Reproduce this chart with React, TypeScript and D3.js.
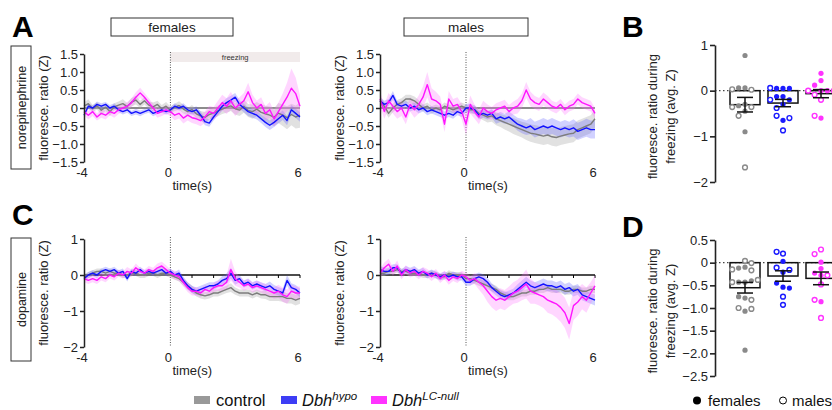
import React, { useEffect, useRef } from 'react'
import * as d3 from 'd3'

// sample grid of the photometry traces, seconds (-4 .. 6, every 0.2 s)
const TIME = d3.range(51).map(i => -4 + i * 0.2)

// ---- panel A, norepinephrine, females ----
const AF_CTRL = [
  0.05, 0.12, -0.02, 0.06, -0.06, 0.02, -0.1, 0.03, 0.08, 0.12,
  0.04, 0.16, 0.22, 0.1, 0.2, 0.08, 0.03, 0.1, -0.02, 0.05,
  -0.06, 0.02, 0.07, -0.03, -0.1, -0.04, -0.16, -0.22, -0.26, -0.18,
  -0.14, -0.08, -0.03, 0.02, 0.06, -0.02, -0.06, 0.05, -0.07, -0.1,
  -0.03, -0.12, -0.16, -0.2, -0.26, -0.14, -0.2, -0.27, -0.18, -0.25,
  -0.2]
const AF_HYPO = [
  -0.2, 0.05, 0.0, 0.1, 0.05, 0.1, 0.0, 0.05, -0.05, -0.1,
  -0.05, -0.15, -0.1, -0.15, -0.1, -0.05, -0.15, -0.1, -0.05, -0.1,
  -0.05, 0.05, 0.0, 0.05, -0.05, -0.1, -0.05, -0.2, -0.38, -0.42,
  -0.25, -0.1, 0.05, 0.15, 0.22, 0.3, 0.1, 0.0, -0.1, -0.15,
  -0.2, -0.3, -0.4, -0.48, -0.4, -0.3, -0.2, -0.35, -0.05, -0.15,
  -0.25]
const AF_LC = [
  -0.1, -0.2, -0.1, -0.25, -0.15, -0.2, -0.1, -0.15, -0.05, 0.0,
  0.05, 0.15, 0.3, 0.42, 0.3, 0.15, 0.0, -0.15, -0.1, -0.05,
  -0.1, -0.2, -0.15, -0.28, -0.2, -0.27, -0.3, -0.35, -0.25, -0.1,
  -0.15, 0.0, 0.15, 0.05, 0.2, 0.0, 0.1, 0.2, 0.45, 0.15,
  0.0, 0.1, -0.15, -0.05, -0.3, -0.1, 0.1, 0.3, 0.55, 0.4,
  0.05]
const AF_CTRL_SEM = [
  0.1, 0.12, 0.1, 0.1, 0.12, 0.1, 0.12, 0.1, 0.1, 0.12,
  0.1, 0.12, 0.12, 0.1, 0.1, 0.1, 0.12, 0.1, 0.1, 0.12,
  0.1, 0.1, 0.12, 0.12, 0.1, 0.12, 0.12, 0.14, 0.15, 0.14,
  0.14, 0.15, 0.14, 0.15, 0.14, 0.16, 0.16, 0.18, 0.18, 0.2,
  0.2, 0.22, 0.22, 0.24, 0.25, 0.28, 0.3, 0.32, 0.3, 0.32,
  0.35]
const AF_HYPO_SEM = [
  0.08, 0.08, 0.07, 0.08, 0.08, 0.07, 0.08, 0.08, 0.07, 0.08,
  0.08, 0.07, 0.08, 0.08, 0.07, 0.08, 0.08, 0.07, 0.08, 0.08,
  0.08, 0.08, 0.07, 0.08, 0.08, 0.09, 0.1, 0.1, 0.1, 0.1,
  0.1, 0.1, 0.12, 0.12, 0.12, 0.12, 0.12, 0.12, 0.12, 0.12,
  0.12, 0.12, 0.13, 0.13, 0.13, 0.13, 0.13, 0.13, 0.13, 0.13,
  0.13]
const AF_LC_SEM = [
  0.1, 0.12, 0.12, 0.1, 0.12, 0.12, 0.1, 0.12, 0.12, 0.1,
  0.12, 0.12, 0.14, 0.14, 0.12, 0.12, 0.12, 0.12, 0.12, 0.12,
  0.12, 0.14, 0.14, 0.15, 0.15, 0.15, 0.15, 0.16, 0.16, 0.16,
  0.18, 0.2, 0.22, 0.22, 0.25, 0.22, 0.2, 0.22, 0.25, 0.22,
  0.2, 0.2, 0.2, 0.22, 0.22, 0.25, 0.3, 0.4, 0.55, 0.45,
  0.3]

// ---- panel A, norepinephrine, males ----
const AM_CTRL = [
  0.2, 0.05, -0.15, 0.0, 0.1, 0.15, 0.25, 0.25, 0.2, 0.1,
  0.0, 0.05, -0.05, 0.0, -0.05, 0.05, 0.0, -0.05, 0.0, 0.05,
  0.0, -0.05, -0.05, -0.15, -0.2, -0.25, -0.22, -0.3, -0.35, -0.4,
  -0.45, -0.5, -0.55, -0.6, -0.65, -0.7, -0.72, -0.75, -0.78, -0.75,
  -0.8, -0.82, -0.78, -0.75, -0.72, -0.7, -0.6, -0.55, -0.5, -0.45,
  -0.3]
const AM_HYPO = [
  0.2, 0.1, 0.15, 0.35, 0.1, 0.05, 0.1, 0.0, 0.05, -0.05,
  0.0, -0.1, -0.05, -0.1, -0.15, -0.2, -0.15, -0.2, -0.1, -0.15,
  0.0, 0.0, -0.05, -0.2, -0.15, -0.2, -0.15, -0.3, -0.25, -0.3,
  -0.25, -0.35, -0.45, -0.5, -0.55, -0.5, -0.6, -0.55, -0.5, -0.55,
  -0.5, -0.55, -0.6, -0.55, -0.6, -0.55, -0.65, -0.6, -0.55, -0.6,
  -0.6]
const AM_LC = [
  0.25, -0.1, 0.2, 0.05, -0.1, 0.0, -0.25, 0.1, -0.05, 0.1,
  0.3, 0.65, 0.25, 0.2, 0.1, -0.45, 0.25, 0.05, 0.1, -0.1,
  -0.45, 0.1, -0.1, -0.25, 0.0, -0.1, -0.15, -0.05, 0.0, 0.05,
  -0.1, 0.0, 0.05, 0.2, 0.5, 0.25, 0.15, 0.1, 0.25, 0.15,
  0.05, 0.0, 0.1, -0.05, 0.05, 0.1, 0.25, 0.15, 0.1, 0.05,
  -0.15]
const AM_CTRL_SEM = [
  0.12, 0.12, 0.12, 0.12, 0.12, 0.12, 0.12, 0.12, 0.12, 0.12,
  0.1, 0.1, 0.1, 0.1, 0.1, 0.1, 0.1, 0.1, 0.1, 0.1,
  0.1, 0.1, 0.12, 0.12, 0.14, 0.15, 0.16, 0.18, 0.18, 0.2,
  0.2, 0.22, 0.22, 0.22, 0.24, 0.24, 0.25, 0.25, 0.25, 0.25,
  0.25, 0.25, 0.25, 0.25, 0.25, 0.25, 0.25, 0.25, 0.25, 0.25,
  0.25]
const AM_HYPO_SEM = [
  0.1, 0.1, 0.1, 0.12, 0.1, 0.1, 0.1, 0.1, 0.1, 0.1,
  0.1, 0.1, 0.1, 0.1, 0.1, 0.1, 0.1, 0.1, 0.1, 0.1,
  0.12, 0.12, 0.12, 0.12, 0.12, 0.12, 0.12, 0.14, 0.14, 0.14,
  0.15, 0.16, 0.18, 0.2, 0.2, 0.22, 0.22, 0.22, 0.22, 0.22,
  0.22, 0.22, 0.22, 0.22, 0.22, 0.24, 0.24, 0.24, 0.25, 0.25,
  0.25]
const AM_LC_SEM = [
  0.2, 0.2, 0.22, 0.2, 0.2, 0.22, 0.2, 0.2, 0.22, 0.25,
  0.3, 0.35, 0.3, 0.25, 0.22, 0.22, 0.22, 0.2, 0.2, 0.22,
  0.3, 0.25, 0.2, 0.2, 0.2, 0.2, 0.18, 0.18, 0.18, 0.18,
  0.18, 0.18, 0.2, 0.2, 0.22, 0.2, 0.18, 0.18, 0.18, 0.18,
  0.15, 0.15, 0.15, 0.15, 0.15, 0.15, 0.15, 0.15, 0.15, 0.15,
  0.15]

// ---- panel C, dopamine, females ----
const CF_CTRL = [
  -0.05, 0.0, 0.05, 0.1, 0.1, 0.05, 0.1, 0.05, 0.05, 0.0,
  0.0, 0.05, 0.05, 0.0, 0.0, 0.05, 0.05, 0.0, 0.05, 0.05,
  0.0, -0.05, -0.1, -0.2, -0.3, -0.4, -0.5, -0.55, -0.58, -0.55,
  -0.5, -0.5, -0.45, -0.4, -0.35, -0.45, -0.5, -0.5, -0.5, -0.55,
  -0.5, -0.55, -0.55, -0.6, -0.6, -0.6, -0.6, -0.65, -0.65, -0.7,
  -0.65]
const CF_HYPO = [
  -0.1, 0.0, 0.05, 0.0, 0.1, 0.15, 0.1, 0.15, 0.05, 0.1,
  -0.1, 0.1, 0.05, 0.15, 0.05, 0.1, 0.05, 0.1, 0.15, 0.05,
  0.1, 0.0, 0.05, -0.15, -0.3, -0.4, -0.45, -0.4, -0.35, -0.3,
  -0.3, -0.25, -0.15, -0.1, 0.05, -0.15, -0.1, -0.25, -0.2, -0.3,
  -0.25, -0.3, -0.35, -0.3, -0.4, -0.45, -0.5, -0.15, -0.35, -0.4,
  -0.5]
const CF_LC = [
  -0.1, -0.15, -0.1, -0.15, -0.05, -0.1, 0.0, -0.05, 0.05, 0.0,
  0.1, 0.05, 0.2, 0.1, 0.05, 0.15, 0.1, 0.2, 0.25, 0.15,
  0.05, 0.0, -0.05, -0.2, -0.35, -0.45, -0.45, -0.5, -0.4, -0.45,
  -0.35, -0.3, -0.3, -0.2, 0.15, -0.1, -0.2, -0.3, -0.25, -0.35,
  -0.3, -0.35, -0.4, -0.45, -0.5, -0.45, -0.55, -0.6, -0.45, -0.5,
  -0.5]
const CF_CTRL_SEM = [
  0.08, 0.08, 0.08, 0.08, 0.08, 0.08, 0.08, 0.08, 0.08, 0.08,
  0.08, 0.08, 0.08, 0.08, 0.08, 0.08, 0.08, 0.08, 0.08, 0.08,
  0.08, 0.08, 0.08, 0.1, 0.1, 0.1, 0.1, 0.1, 0.1, 0.1,
  0.1, 0.1, 0.1, 0.1, 0.12, 0.1, 0.1, 0.1, 0.1, 0.1,
  0.1, 0.1, 0.12, 0.12, 0.12, 0.12, 0.14, 0.14, 0.14, 0.15,
  0.15]
const CF_HYPO_SEM = [
  0.08, 0.08, 0.08, 0.08, 0.08, 0.08, 0.08, 0.08, 0.08, 0.08,
  0.08, 0.08, 0.08, 0.08, 0.08, 0.08, 0.08, 0.08, 0.08, 0.08,
  0.08, 0.08, 0.1, 0.1, 0.1, 0.1, 0.1, 0.1, 0.1, 0.1,
  0.1, 0.1, 0.12, 0.14, 0.15, 0.12, 0.1, 0.1, 0.1, 0.1,
  0.1, 0.1, 0.1, 0.12, 0.12, 0.12, 0.12, 0.15, 0.12, 0.12,
  0.12]
const CF_LC_SEM = [
  0.1, 0.1, 0.1, 0.1, 0.1, 0.1, 0.1, 0.1, 0.1, 0.1,
  0.12, 0.1, 0.12, 0.1, 0.1, 0.1, 0.1, 0.12, 0.12, 0.12,
  0.1, 0.12, 0.12, 0.12, 0.12, 0.12, 0.12, 0.12, 0.12, 0.12,
  0.12, 0.14, 0.16, 0.2, 0.3, 0.2, 0.15, 0.14, 0.14, 0.14,
  0.14, 0.14, 0.15, 0.15, 0.16, 0.18, 0.2, 0.2, 0.18, 0.18,
  0.18]

// ---- panel C, dopamine, males ----
const CM_CTRL = [
  0.05, 0.05, 0.1, 0.1, 0.15, 0.1, 0.1, 0.05, 0.05, 0.05,
  0.0, 0.0, 0.05, 0.0, -0.05, -0.05, 0.05, 0.0, 0.0, 0.0,
  -0.1, -0.1, -0.15, -0.2, -0.25, -0.3, -0.35, -0.4, -0.5, -0.55,
  -0.6, -0.6, -0.55, -0.5, -0.5, -0.45, -0.45, -0.4, -0.4, -0.35,
  -0.4, -0.4, -0.4, -0.45, -0.45, -0.4, -0.4, -0.45, -0.45, -0.4,
  -0.4]
const CM_HYPO = [
  0.15, 0.1, 0.1, 0.2, 0.2, 0.05, 0.15, 0.1, 0.15, 0.05,
  0.1, 0.0, 0.05, 0.0, -0.05, 0.0, -0.05, 0.0, -0.05, -0.05,
  -0.2, -0.2, -0.1, -0.05, -0.1, -0.2, -0.35, -0.45, -0.55, -0.6,
  -0.55, -0.5, -0.4, -0.3, -0.2, -0.3, -0.35, -0.3, -0.25, -0.3,
  -0.3, -0.35, -0.3, -0.4, -0.35, -0.45, -0.4, -0.55, -0.6, -0.65,
  -0.7]
const CM_LC = [
  0.05, 0.2, 0.3, 0.1, 0.25, 0.0, 0.15, 0.05, 0.1, 0.0,
  0.1, 0.05, -0.05, 0.05, -0.1, 0.0, -0.15, -0.05, -0.1, 0.0,
  -0.05, -0.15, -0.1, -0.2, -0.3, -0.45, -0.6, -0.7, -0.65, -0.7,
  -0.6, -0.5, -0.45, -0.35, -0.25, -0.45, -0.5, -0.55, -0.6, -0.7,
  -0.75, -0.8, -0.9, -1.05, -1.35, -0.85, -0.75, -0.6, -0.7, -0.5,
  -0.3]
const CM_CTRL_SEM = [
  0.08, 0.08, 0.08, 0.08, 0.08, 0.08, 0.08, 0.08, 0.08, 0.08,
  0.08, 0.08, 0.08, 0.08, 0.08, 0.08, 0.08, 0.08, 0.08, 0.08,
  0.08, 0.08, 0.1, 0.1, 0.1, 0.1, 0.1, 0.1, 0.1, 0.1,
  0.1, 0.1, 0.1, 0.1, 0.1, 0.1, 0.1, 0.1, 0.1, 0.1,
  0.1, 0.1, 0.1, 0.1, 0.1, 0.1, 0.1, 0.1, 0.1, 0.1,
  0.1]
const CM_HYPO_SEM = [
  0.1, 0.1, 0.1, 0.1, 0.1, 0.1, 0.1, 0.1, 0.1, 0.1,
  0.1, 0.1, 0.1, 0.1, 0.1, 0.1, 0.1, 0.1, 0.1, 0.1,
  0.1, 0.1, 0.12, 0.12, 0.12, 0.12, 0.12, 0.12, 0.12, 0.12,
  0.12, 0.12, 0.14, 0.15, 0.15, 0.15, 0.15, 0.15, 0.15, 0.15,
  0.15, 0.15, 0.15, 0.15, 0.15, 0.15, 0.15, 0.15, 0.15, 0.15,
  0.15]
const CM_LC_SEM = [
  0.12, 0.15, 0.15, 0.12, 0.15, 0.12, 0.12, 0.12, 0.12, 0.12,
  0.12, 0.12, 0.12, 0.12, 0.12, 0.12, 0.12, 0.12, 0.12, 0.12,
  0.12, 0.12, 0.15, 0.2, 0.25, 0.3, 0.3, 0.3, 0.28, 0.28,
  0.28, 0.3, 0.32, 0.35, 0.4, 0.35, 0.3, 0.3, 0.32, 0.35,
  0.35, 0.38, 0.4, 0.42, 0.45, 0.4, 0.38, 0.35, 0.35, 0.3,
  0.3]

// ---- bar/dot panels: averages during freezing ----
const GROUPS = ['control', 'hypo', 'lcnull']
const B_FEMALES = [
  [0.77, 0.06, 0.06, -0.3, -0.33, -0.45, -0.9],
  [0.05, 0.05, 0.05, -0.13, -0.13, -0.2, -0.3, -0.65],
  [0.38, 0.22, 0.12, 0.0, 0.0, -0.6],
]
const B_MALES = [
  [0.02, 0.03, -0.36, -0.36, -0.55, -1.68],
  [0.06, -0.2, -0.38, -0.55, -0.6, -0.87],
  [0.0, 0.0, -0.09, -0.2, -0.55],
]
const D_FEMALES = [
  [-0.1, -0.12, -0.43, -0.43, -0.4, -0.78, -0.75, -1.07, -1.93],
  [0.03, -0.21, -0.54, -0.45, -0.56],
  [0.01, -0.13, -0.28, -0.23, -0.86],
]
const D_MALES = [
  [0.04, -0.01, -0.17, -0.15, -0.43, -0.38, -0.82, -1.0, -1.02],
  [0.2, 0.24, -0.11, -0.16, -0.75, -0.93],
  [0.29, 0.19, -0.28, -0.48, -0.82, -1.22],
]

const NE_TICKS = [-1.5, -1, -0.5, 0, 0.5, 1, 1.5]
const DA_TICKS = [-2, -1, 0, 1]
const B_TICKS = [-2, -1, 0, 1]
const D_TICKS = [-2.5, -2, -1.5, -1, -0.5, 0, 0.5]
const X_TICKS = [-4, 0, 6]

const COL = {
  control: { line: '#7d7d7d', band: '#b4b4b4', dot: '#8a8a8a', key: '#999999' },
  hypo: { line: '#1212ff', band: '#5a5aff', dot: '#1a1aff', key: '#3d3df5' },
  lcnull: { line: '#ff14ff', band: '#ff6bff', dot: '#ff33ff', key: '#ff33ff' },
}

const FONT = "Arial, 'Liberation Sans', Helvetica, sans-serif"
const fmt1 = (d) => (d === 0 ? '0' : d3.format('.1f')(d))

function drawTrace(svg, p) {
  const x = d3.scaleLinear().domain([-4, 6]).range([p.x0, p.x1])
  const y = d3.scaleLinear().domain(p.domain).range([p.yBot, p.yTop])
  const g = svg.append('g')

  if (p.freezing) {
    g.append('rect')
      .attr('x', x(0)).attr('y', p.yTop - 2)
      .attr('width', x(6) - x(0)).attr('height', 10)
      .attr('fill', '#f1ebeb')
    g.append('text')
      .attr('x', (x(0) + x(6)) / 2).attr('y', p.yTop + 5.5)
      .attr('text-anchor', 'middle').attr('font-size', 7.5).attr('fill', '#333')
      .text('freezing')
  }

  // zero line
  g.append('line')
    .attr('x1', x(-4)).attr('x2', x(6)).attr('y1', y(0)).attr('y2', y(0))
    .attr('stroke', p.zeroColor).attr('stroke-width', 1.3)
  if (p.zeroTicks) {
    g.selectAll('.zt').data(d3.range(1, 7)).enter().append('line')
      .attr('x1', d => x(d)).attr('x2', d => x(d))
      .attr('y1', y(0)).attr('y2', y(0) + 3)
      .attr('stroke', '#000').attr('stroke-width', 1)
  }

  // onset of freezing
  g.append('line')
    .attr('x1', x(0)).attr('x2', x(0)).attr('y1', p.yTop - 2).attr('y2', p.yBot)
    .attr('stroke', '#555').attr('stroke-width', 1).attr('stroke-dasharray', '1,1.5')

  const area = (s) => d3.area()
    .x((d, i) => x(TIME[i]))
    .y0((d, i) => y(s.mean[i] - s.sem[i]))
    .y1((d, i) => y(s.mean[i] + s.sem[i]))
  const line = d3.line().x((d, i) => x(TIME[i])).y(d => y(d))

  p.series.forEach(s => {
    g.append('path').datum(s.mean).attr('d', area(s))
      .attr('fill', COL[s.k].band).attr('fill-opacity', s.k === 'control' ? 0.4 : 0.28)
  })
  p.series.forEach(s => {
    g.append('path').datum(s.mean).attr('d', line)
      .attr('fill', 'none').attr('stroke', COL[s.k].line).attr('stroke-width', 1.4)
      .attr('stroke-linejoin', 'round')
  })

  // y axis
  const ax = g.append('g').attr('transform', `translate(${p.x0},0)`)
    .call(d3.axisLeft(y).tickValues(p.ticks).tickFormat(p.fmt).tickSize(4).tickSizeOuter(0).tickPadding(2))
  ax.select('.domain').attr('stroke', '#222').attr('stroke-width', 1.5)
  ax.selectAll('.tick line').attr('stroke', '#222').attr('stroke-width', 1.5)
  ax.selectAll('.tick text').attr('font-size', 13).attr('font-family', FONT).attr('fill', '#222')

  // x labels
  g.selectAll('.xl').data(X_TICKS).enter().append('text')
    .attr('x', d => x(d) - 2).attr('y', p.yBot + 15)
    .attr('text-anchor', 'middle').attr('font-size', 13).attr('fill', '#222')
    .text(d => d)
  g.append('text')
    .attr('x', x(0) + 2).attr('y', p.yBot + 28)
    .attr('font-size', 13).attr('fill', '#222').text('time(s)')

  g.append('text')
    .attr('transform', `translate(${p.x0 - 36},${(p.yTop + p.yBot) / 2}) rotate(-90)`)
    .attr('text-anchor', 'middle').attr('font-size', 13).attr('fill', '#222')
    .text('fluoresce. ratio (Z)')
}

function swarm(values, filled, cx, y, r) {
  const pts = values.map((v, i) => ({ v, f: filled[i], cy: y(v), cx }))
  const placed = []
  const step = 2 * r + 1.6
  pts.forEach(pt => {
    for (let k = 0; k < 12; k++) {
      const off = k === 0 ? 0 : (k % 2 ? -1 : 1) * Math.ceil(k / 2) * step
      const ok = placed.every(q => Math.hypot(q.cx - (cx + off), q.cy - pt.cy) >= 2 * r + 1)
      if (ok) { pt.cx = cx + off; break }
    }
    placed.push(pt)
  })
  return placed
}

function drawBars(svg, p) {
  const y = d3.scaleLinear().domain(p.domain).range([p.yBot, p.yTop])
  const xc = d3.scalePoint().domain(GROUPS).range([745, 821])
  const g = svg.append('g')
  const bw = 30

  g.append('line')
    .attr('x1', p.x0).attr('x2', 840).attr('y1', y(0)).attr('y2', y(0))
    .attr('stroke', '#444').attr('stroke-width', 1.3).attr('stroke-dasharray', '1.5,2.5')

  GROUPS.forEach((k, gi) => {
    const all = p.females[gi].concat(p.males[gi])
    const m = d3.mean(all)
    const sem = d3.deviation(all) / Math.sqrt(all.length)
    const cx = xc(k)
    g.append('rect')
      .attr('x', cx - bw / 2).attr('width', bw)
      .attr('y', Math.min(y(0), y(m))).attr('height', Math.abs(y(m) - y(0)))
      .attr('fill', 'none').attr('stroke', '#111').attr('stroke-width', 1.5)

    const vals = p.females[gi].concat(p.males[gi])
    const flags = p.females[gi].map(() => true).concat(p.males[gi].map(() => false))
    const pts = swarm(vals, flags, cx, y, 2.4)
    pts.forEach(pt => {
      g.append('circle').attr('cx', pt.cx).attr('cy', pt.cy).attr('r', pt.f ? 2.6 : 2.4)
        .attr('fill', pt.f ? COL[k].dot : '#fff')
        .attr('stroke', COL[k].dot).attr('stroke-width', pt.f ? 0 : 1.4)
    })

    g.append('line').attr('x1', cx).attr('x2', cx).attr('y1', y(m - sem)).attr('y2', y(m + sem))
      .attr('stroke', '#111').attr('stroke-width', 1.5)
    ;[m - sem, m + sem].forEach(v => {
      g.append('line').attr('x1', cx - 8).attr('x2', cx + 8).attr('y1', y(v)).attr('y2', y(v))
        .attr('stroke', '#111').attr('stroke-width', 1.5)
    })
  })

  const ax = g.append('g').attr('transform', `translate(${p.x0},0)`)
    .call(d3.axisLeft(y).tickValues(p.ticks).tickFormat(p.fmt).tickSize(5).tickSizeOuter(0).tickPadding(2))
  ax.select('.domain').attr('stroke', '#222').attr('stroke-width', 1.6)
  ax.selectAll('.tick line').attr('stroke', '#222').attr('stroke-width', 1.6)
  ax.selectAll('.tick text').attr('font-size', 13).attr('font-family', FONT).attr('fill', '#222')

  const cy = (p.yTop + p.yBot) / 2 + 3
  g.append('text')
    .attr('transform', `translate(${p.x0 - 58},${cy}) rotate(-90)`)
    .attr('text-anchor', 'middle').attr('font-size', 13).attr('fill', '#222')
    .text('fluoresce. ratio during')
  g.append('text')
    .attr('transform', `translate(${p.x0 - 40},${cy}) rotate(-90)`)
    .attr('text-anchor', 'middle').attr('font-size', 13).attr('fill', '#222')
    .text('freezing (avg. Z)')
}

export default function App() {
  const ref = useRef(null)

  useEffect(() => {
    const svg = d3.select(ref.current)
    svg.selectAll('*').remove()

    svg.append('rect').attr('width', 832).attr('height', 410).attr('fill', '#fff')

    const series = (c, h, l, cs, hs, ls) => [
      { k: 'control', mean: c, sem: cs },
      { k: 'hypo', mean: h, sem: hs },
      { k: 'lcnull', mean: l, sem: ls },
    ]

    drawTrace(svg, { x0: 84, x1: 300, yTop: 54, yBot: 162, domain: [-1.5, 1.5], ticks: NE_TICKS, fmt: fmt1,
      zeroColor: '#666', freezing: true,
      series: series(AF_CTRL, AF_HYPO, AF_LC, AF_CTRL_SEM, AF_HYPO_SEM, AF_LC_SEM) })
    drawTrace(svg, { x0: 380, x1: 595, yTop: 54, yBot: 162, domain: [-1.5, 1.5], ticks: NE_TICKS, fmt: fmt1,
      zeroColor: '#666',
      series: series(AM_CTRL, AM_HYPO, AM_LC, AM_CTRL_SEM, AM_HYPO_SEM, AM_LC_SEM) })
    drawTrace(svg, { x0: 84, x1: 300, yTop: 239, yBot: 347, domain: [-2, 1], ticks: DA_TICKS, fmt: d3.format('d'),
      zeroColor: '#111', zeroTicks: true,
      series: series(CF_CTRL, CF_HYPO, CF_LC, CF_CTRL_SEM, CF_HYPO_SEM, CF_LC_SEM) })
    drawTrace(svg, { x0: 380, x1: 595, yTop: 239, yBot: 347, domain: [-2, 1], ticks: DA_TICKS, fmt: d3.format('d'),
      zeroColor: '#111', zeroTicks: true,
      series: series(CM_CTRL, CM_HYPO, CM_LC, CM_CTRL_SEM, CM_HYPO_SEM, CM_LC_SEM) })

    drawBars(svg, { x0: 715, yTop: 45, yBot: 182, domain: [-2, 1], ticks: B_TICKS, fmt: d3.format('d'),
      females: B_FEMALES, males: B_MALES })
    drawBars(svg, { x0: 715, yTop: 240, yBot: 376, domain: [-2.5, 0.5], ticks: D_TICKS, fmt: fmt1,
      females: D_FEMALES, males: D_MALES })

    // panel letters
    ;[['A', 12, 37], ['B', 622, 37], ['C', 12, 225], ['D', 622, 237]].forEach(([t, x, yy]) => {
      svg.append('text').attr('x', x).attr('y', yy).attr('font-size', 30).attr('font-weight', 'bold')
        .attr('fill', '#000').text(t)
    })

    // column headers
    ;[['females', 111, 233], ['males', 404, 528]].forEach(([t, a, b]) => {
      svg.append('rect').attr('x', a).attr('y', 18).attr('width', b - a).attr('height', 18)
        .attr('fill', '#fff').attr('stroke', '#333').attr('stroke-width', 1)
      svg.append('text').attr('x', (a + b) / 2).attr('y', 31.5).attr('text-anchor', 'middle')
        .attr('font-size', 13.5).attr('fill', '#222').text(t)
    })

    // row headers
    ;[['norepinephrine', 46, 169], ['dopamine', 238, 361]].forEach(([t, a, b]) => {
      svg.append('rect').attr('x', 11).attr('y', a).attr('width', 20).attr('height', b - a)
        .attr('fill', '#fff').attr('stroke', '#333').attr('stroke-width', 1)
      svg.append('text').attr('transform', `translate(25.5,${(a + b) / 2}) rotate(-90)`)
        .attr('text-anchor', 'middle').attr('font-size', 12.5).attr('fill', '#222').text(t)
    })

    // genotype legend
    const lg = svg.append('g')
    const keys = [
      { k: 'control', x: 194 },
      { k: 'hypo', x: 281 },
      { k: 'lcnull', x: 371 },
    ]
    keys.forEach(d => {
      lg.append('rect').attr('x', d.x).attr('y', 396).attr('width', 16).attr('height', 8).attr('fill', COL[d.k].key)
    })
    lg.append('text').attr('x', 216).attr('y', 406).attr('font-size', 16.5).attr('fill', '#111').text('control')
    const t1 = lg.append('text').attr('x', 302).attr('y', 406).attr('font-size', 16.5).attr('fill', '#111')
    t1.append('tspan').attr('font-style', 'italic').text('Dbh')
    t1.append('tspan').attr('font-style', 'italic').attr('font-size', 11.5).attr('dy', -6).text('hypo')
    const t2 = lg.append('text').attr('x', 392).attr('y', 406).attr('font-size', 16.5).attr('fill', '#111')
    t2.append('tspan').attr('font-style', 'italic').text('Dbh')
    t2.append('tspan').attr('font-style', 'italic').attr('font-size', 11.5).attr('dy', -6).text('LC-null')

    // sex legend
    lg.append('circle').attr('cx', 697).attr('cy', 400.5).attr('r', 4).attr('fill', '#000')
    lg.append('text').attr('x', 708).attr('y', 405.5).attr('font-size', 15).attr('fill', '#111').text('females')
    lg.append('circle').attr('cx', 783).attr('cy', 400.5).attr('r', 3.5).attr('fill', '#fff')
      .attr('stroke', '#000').attr('stroke-width', 1)
    lg.append('text').attr('x', 792).attr('y', 405.5).attr('font-size', 15).attr('fill', '#111').text('males')
  }, [])

  return (
    <svg ref={ref} width={832} height={410} fontFamily={FONT}
      style={{ position: 'absolute', left: 0, top: 0, display: 'block' }} />
  )
}
